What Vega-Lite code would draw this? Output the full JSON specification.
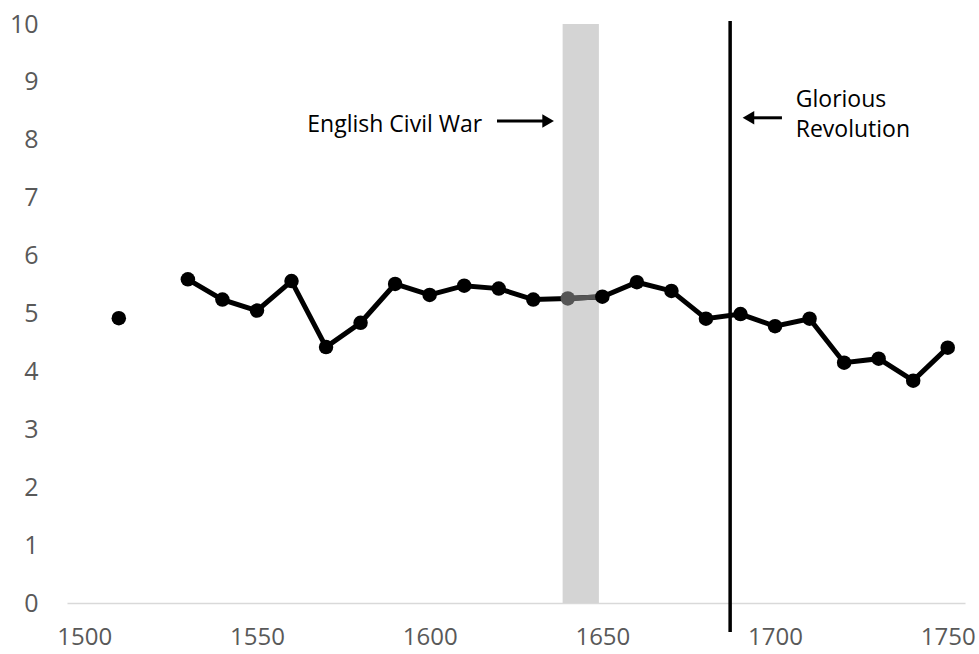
{
  "$schema": "https://vega.github.io/schema/vega-lite/v6.json",
  "width": 898,
  "height": 579,
  "autosize": {"type": "none"},
  "padding": {"left": 67, "top": 24, "right": 14, "bottom": 51},
  "background": "white",
  "config": {
    "view": {"stroke": null},
    "font": "Open Sans"
  },
  "datasets": {
    "series": [
      {"year": 1510, "value": 4.92},
      {"year": 1520, "value": null},
      {"year": 1530, "value": 5.59},
      {"year": 1540, "value": 5.24},
      {"year": 1550, "value": 5.05},
      {"year": 1560, "value": 5.56},
      {"year": 1570, "value": 4.42},
      {"year": 1580, "value": 4.84},
      {"year": 1590, "value": 5.51},
      {"year": 1600, "value": 5.32},
      {"year": 1610, "value": 5.48},
      {"year": 1620, "value": 5.43},
      {"year": 1630, "value": 5.24},
      {"year": 1640, "value": 5.26},
      {"year": 1650, "value": 5.29},
      {"year": 1660, "value": 5.54},
      {"year": 1670, "value": 5.39},
      {"year": 1680, "value": 4.91},
      {"year": 1690, "value": 4.99},
      {"year": 1700, "value": 4.78},
      {"year": 1710, "value": 4.91},
      {"year": 1720, "value": 4.15},
      {"year": 1730, "value": 4.22},
      {"year": 1740, "value": 3.84},
      {"year": 1750, "value": 4.41}
    ],
    "band": [{"start": 1638.5, "end": 1649, "lo": 0, "hi": 10}],
    "vline": [{"year": 1687, "top": 10.05, "bottom": -0.5}],
    "arrows": [
      {"x1": 1619.5, "x2": 1634, "y": 8.325, "head": 1634.3, "shape": "triangle-right"},
      {"x1": 1693.5, "x2": 1702, "y": 8.38, "head": 1692.3, "shape": "triangle-left"}
    ],
    "labelsRight": [
      {"x": 1615.2, "y": 8.135, "text": "English Civil War"}
    ],
    "labelsLeft": [
      {"x": 1706, "y": 8.57, "text": "Glorious"},
      {"x": 1706, "y": 8.05, "text": "Revolution"}
    ]
  },
  "layer": [
    {
      "data": {"name": "band"},
      "mark": {"type": "rect", "color": "#d4d4d4"},
      "encoding": {
        "x": {"field": "start", "type": "quantitative", "scale": {"domain": [1495, 1755], "nice": false, "zero": false},
          "axis": {"values": [1500, 1550, 1600, 1650, 1700, 1750], "format": "d", "title": null, "grid": false, "ticks": false,
            "domainColor": "#d9d9d9", "domainWidth": 1.5, "labelFontSize": 24, "labelColor": "#595959", "labelPadding": 22, "labelFont": "Open Sans"}},
        "x2": {"field": "end"},
        "y": {"field": "lo", "type": "quantitative", "scale": {"domain": [0, 10], "nice": false},
          "axis": {"values": [0,1,2,3,4,5,6,7,8,9,10], "format": "d", "title": null, "grid": false, "ticks": false, "domain": false,
            "labelFontSize": 25, "labelColor": "#595959", "labelPadding": 29, "labelFont": "Open Sans"}},
        "y2": {"field": "hi"}
      }
    },
    {
      "data": {"name": "series"},
      "mark": {"type": "line", "color": "black", "strokeWidth": 5, "invalid": "break-paths-filter-domains"},
      "encoding": {
        "x": {"field": "year", "type": "quantitative"},
        "y": {"field": "value", "type": "quantitative"}
      }
    },
    {
      "data": {"name": "series"},
      "transform": [{"filter": "datum.year >= 1640 && datum.year <= 1650"}],
      "mark": {"type": "line", "color": "#555555", "strokeWidth": 5},
      "encoding": {
        "x": {"field": "year", "type": "quantitative"},
        "y": {"field": "value", "type": "quantitative"}
      }
    },
    {
      "data": {"name": "series"},
      "transform": [{"filter": "datum.value != null"}],
      "mark": {"type": "point", "filled": true, "opacity": 1, "size": 210},
      "encoding": {
        "x": {"field": "year", "type": "quantitative"},
        "y": {"field": "value", "type": "quantitative"},
        "color": {"condition": {"test": "datum.year == 1640", "value": "#555555"}, "value": "black"}
      }
    },
    {
      "data": {"name": "vline"},
      "mark": {"type": "rule", "color": "black", "strokeWidth": 3.5},
      "encoding": {
        "x": {"field": "year", "type": "quantitative"},
        "y": {"field": "top", "type": "quantitative"},
        "y2": {"field": "bottom"}
      }
    },
    {
      "data": {"name": "arrows"},
      "mark": {"type": "rule", "color": "black", "strokeWidth": 3},
      "encoding": {
        "x": {"field": "x1", "type": "quantitative"},
        "x2": {"field": "x2"},
        "y": {"field": "y", "type": "quantitative"}
      }
    },
    {
      "data": {"name": "arrows"},
      "mark": {"type": "point", "filled": true, "opacity": 1, "color": "black", "size": 180},
      "encoding": {
        "x": {"field": "head", "type": "quantitative"},
        "y": {"field": "y", "type": "quantitative"},
        "shape": {"field": "shape", "type": "nominal", "scale": null}
      }
    },
    {
      "data": {"name": "labelsRight"},
      "mark": {"type": "text", "fontSize": 23, "color": "black", "baseline": "alphabetic", "align": "right", "font": "Open Sans"},
      "encoding": {
        "x": {"field": "x", "type": "quantitative"},
        "y": {"field": "y", "type": "quantitative"},
        "text": {"field": "text"}
      }
    },
    {
      "data": {"name": "labelsLeft"},
      "mark": {"type": "text", "fontSize": 23, "color": "black", "baseline": "alphabetic", "align": "left", "font": "Open Sans"},
      "encoding": {
        "x": {"field": "x", "type": "quantitative"},
        "y": {"field": "y", "type": "quantitative"},
        "text": {"field": "text"}
      }
    }
  ]
}
